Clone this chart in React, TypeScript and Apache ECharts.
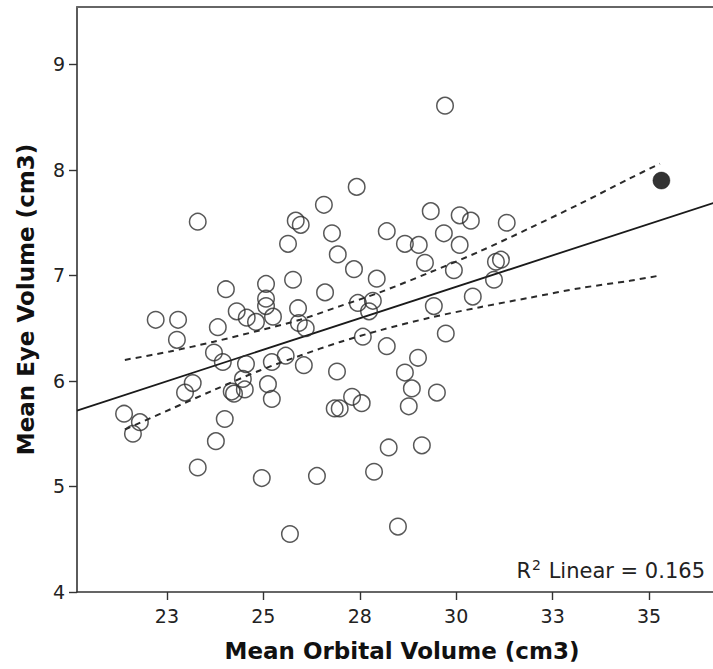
import React, { useEffect, useRef } from "react";
import * as echarts from "echarts";

// Mean orbital volume (x) and mean eye volume (y) for each subject (open circles)
const orbitalVolume = [
  23.30, 25.84, 25.97, 25.64, 24.03, 25.07, 25.77, 25.07, 25.07, 24.31,
  24.57, 24.81, 25.25, 22.21, 22.79, 22.76, 23.82, 25.90, 25.92, 26.10,
  23.72, 23.95, 24.55, 25.22, 25.58, 27.42, 26.57, 26.78, 26.93, 27.35,
  27.94, 26.60, 28.20, 28.67, 29.03, 29.34, 30.09, 30.38, 29.68, 30.09,
  29.19, 29.94, 31.03, 31.16, 30.98, 27.45, 27.84, 27.74, 29.42, 30.43,
  26.05, 26.91, 27.58, 28.20, 29.01, 28.67, 29.73, 31.31, 29.71, 23.17,
  22.97, 21.39, 21.80, 21.62, 24.18, 24.24, 24.52, 24.47, 25.12, 25.22,
  24.00, 23.77, 23.30, 24.96, 25.69, 27.30, 27.55, 26.85, 26.98, 28.85,
  28.77, 29.50, 28.25, 29.11, 26.39, 27.87, 28.49,
];
const eyeVolume = [
  7.51, 7.52, 7.48, 7.30, 6.87, 6.92, 6.96, 6.78, 6.71, 6.66,
  6.60, 6.56, 6.61, 6.58, 6.58, 6.39, 6.51, 6.69, 6.55, 6.50,
  6.27, 6.18, 6.16, 6.18, 6.24, 7.84, 7.67, 7.40, 7.20, 7.06,
  6.97, 6.84, 7.42, 7.30, 7.29, 7.61, 7.57, 7.52, 7.40, 7.29,
  7.12, 7.05, 7.13, 7.15, 6.96, 6.74, 6.76, 6.66, 6.71, 6.80,
  6.15, 6.09, 6.42, 6.33, 6.22, 6.08, 6.45, 7.50, 8.61, 5.98,
  5.89, 5.69, 5.61, 5.50, 5.90, 5.88, 5.92, 6.02, 5.97, 5.83,
  5.64, 5.43, 5.18, 5.08, 4.55, 5.85, 5.79, 5.74, 5.74, 5.93,
  5.76, 5.89, 5.37, 5.39, 5.10, 5.14, 4.62,
];

// Highlighted subject (filled circle)
const highlightOrbital = [35.32];
const highlightEye = [7.90];

// Linear fit line (end points)
const fitX = [20.17, 37.02];
const fitY = [5.72, 7.73];

// 95% confidence band of the mean
const bandX = [21.41, 22.58, 23.69, 24.91, 25.95, 26.99, 28.02, 29.32, 30.62, 31.91, 33.21, 34.50, 35.28];
const bandUpper = [6.20, 6.28, 6.37, 6.48, 6.58, 6.71, 6.84, 7.03, 7.23, 7.45, 7.68, 7.92, 8.06];
const bandLower = [5.54, 5.73, 5.91, 6.10, 6.24, 6.37, 6.48, 6.60, 6.70, 6.79, 6.88, 6.95, 7.00];

// Axis ticks
const xTickValues = [22.5, 25, 27.5, 30, 32.5, 35];
const xTickLabels = ["23", "25", "28", "30", "33", "35"];
const yTickValues = [4, 5, 6, 7, 8, 9];
const yTickLabels = ["4", "5", "6", "7", "8", "9"];

const xMin = 20.17;
const xMax = 37.02;
const yMin = 4;
const yMax = 9.545;

const FONT = "DejaVu Sans";

function labelFor(values: number[], labels: string[], v: number) {
  const i = values.findIndex((t) => Math.abs(t - v) < 1e-6);
  return i >= 0 ? labels[i] : "";
}

export default function App() {
  const ref = useRef<HTMLDivElement>(null);

  useEffect(() => {
    if (!ref.current) return;
    const chart = echarts.init(ref.current, undefined, { renderer: "svg" });

    const points = orbitalVolume.map((x, i) => [x, eyeVolume[i]]);
    const highlight = highlightOrbital.map((x, i) => [x, highlightEye[i]]);
    const fit = fitX.map((x, i) => [x, fitY[i]]);
    const upper = bandX.map((x, i) => [x, bandUpper[i]]);
    const lower = bandX.map((x, i) => [x, bandLower[i]]);

    chart.setOption({
      animation: false,
      backgroundColor: "#ffffff",
      grid: { left: 77, top: 7, right: 0, bottom: 77 },
      xAxis: [
        {
          type: "value",
          min: xMin,
          max: xMax,
          position: "bottom",
          name: "Mean Orbital Volume (cm3)",
          nameLocation: "middle",
          nameGap: 47,
          nameTextStyle: { fontFamily: FONT, fontSize: 23, fontWeight: "bold", color: "#111" },
          axisLine: { show: true, onZero: false, lineStyle: { color: "#333", width: 1.6 } },
          axisTick: { show: true, length: 8, customValues: xTickValues, lineStyle: { color: "#333", width: 1.4 } },
          axisLabel: {
            customValues: xTickValues,
            margin: 14,
            fontFamily: FONT,
            fontSize: 19,
            color: "#222",
            formatter: (v: number) => labelFor(xTickValues, xTickLabels, v),
          },
          splitLine: { show: false },
        },
        {
          type: "value",
          min: xMin,
          max: xMax,
          position: "top",
          axisLine: { show: true, onZero: false, lineStyle: { color: "#666", width: 2 } },
          axisTick: { show: false },
          axisLabel: { show: false },
          splitLine: { show: false },
        },
      ],
      yAxis: {
        type: "value",
        min: yMin,
        max: yMax,
        name: "Mean Eye Volume (cm3)",
        nameLocation: "middle",
        nameGap: 40,
        nameTextStyle: { fontFamily: FONT, fontSize: 23, fontWeight: "bold", color: "#111" },
        axisLine: { show: true, onZero: false, lineStyle: { color: "#333", width: 1.6 } },
        axisTick: { show: true, length: 8, customValues: yTickValues, lineStyle: { color: "#333", width: 1.4 } },
        axisLabel: {
          customValues: yTickValues,
          margin: 12,
          fontFamily: FONT,
          fontSize: 19,
          color: "#222",
          formatter: (v: number) => labelFor(yTickValues, yTickLabels, v),
        },
        splitLine: { show: false },
      },
      graphic: [
        {
          type: "text",
          right: 22,
          top: 558,
          style: {
            text: "{a|R}{s|2}{a| Linear = 0.165}",
            rich: {
              a: { fontFamily: FONT, fontSize: 21, fill: "#222", verticalAlign: "bottom" },
              s: { fontFamily: FONT, fontSize: 14, fill: "#222", verticalAlign: "top", padding: [0, 1, 9, 1] },
            },
          },
        },
      ],
      series: [
        {
          type: "line",
          data: upper,
          smooth: 0.3,
          symbol: "none",
          lineStyle: { color: "#2a2a2a", width: 2, type: [6, 5] },
          z: 2,
        },
        {
          type: "line",
          data: lower,
          smooth: 0.3,
          symbol: "none",
          lineStyle: { color: "#2a2a2a", width: 2, type: [6, 5] },
          z: 2,
        },
        {
          type: "line",
          data: fit,
          symbol: "none",
          lineStyle: { color: "#1a1a1a", width: 1.8 },
          z: 2,
        },
        {
          type: "scatter",
          data: points,
          symbol: "circle",
          symbolSize: 16.5,
          itemStyle: { color: "rgba(0,0,0,0)", borderColor: "#2e2e2e", borderWidth: 1.5 },
          z: 3,
        },
        {
          type: "scatter",
          data: highlight,
          symbol: "circle",
          symbolSize: 17,
          itemStyle: { color: "#000", borderColor: "#000", borderWidth: 0.5 },
          z: 3,
        },
      ],
    });

    return () => chart.dispose();
  }, []);

  return (
    <div
      ref={ref}
      style={{ position: "fixed", left: 0, top: 0, width: 727, height: 669, background: "#fff" }}
    />
  );
}
